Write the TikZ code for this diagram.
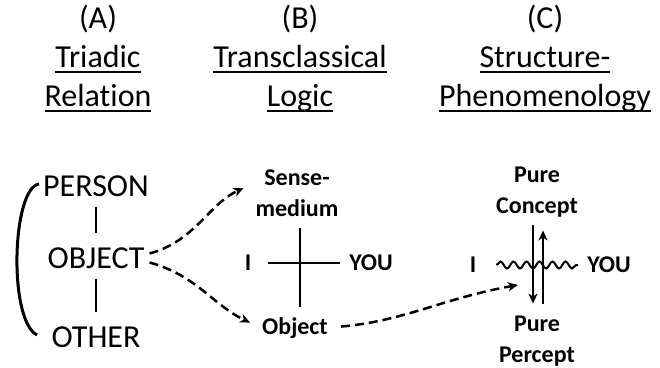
\documentclass[tikz,border=0pt]{standalone}
\usepackage{fontspec}
\setmainfont[Ligatures=NoCommon]{Carlito}
\usetikzlibrary{arrows.meta,decorations.pathmorphing}

\newcommand{\ulword}[1]{\setbox0=\hbox{#1}\rlap{\rule[-5pt]{\wd0}{2.2pt}}\box0}

\begin{document}
\begin{tikzpicture}[x=1pt,y=1pt,>={Stealth[length=10pt,width=9pt,inset=3pt]},line width=2.5pt]
  \tikzstyle{head}=[inner sep=0pt,anchor=base,font=\fontsize{32}{39}\selectfont]
  \tikzstyle{term}=[inner sep=0pt,font=\fontsize{32}{36}\selectfont]
  \tikzstyle{tag}=[inner sep=0pt,align=center,font=\fontsize{24}{31}\selectfont\bfseries]
  \tikzstyle{link}=[->,dash pattern=on 9pt off 5pt]
  \tikzstyle{wave}=[decorate,decoration={snake,segment length=13pt,amplitude=3.5pt}]

  \useasboundingbox (0,0) rectangle (660,367);

  % column headings
  \foreach \x/\n/\t/\u in {98/A/Triadic/Relation,300/B/Transclassical/Logic,545/C/Structure-/Phenomenology}{
    \node[head] (h\n) at (\x,338) {(\n)};
    \node[head] (t\n) at (\x,299) {\ulword{\t}};
    \node[head] (u\n) at (\x,260) {\ulword{\u}};
  }

  % (A) triadic relation
  \node[term] (person) at (96,181) {PERSON};
  \node[term] (object) at (96,109) {OBJECT};
  \node[term] (other)  at (96,30)  {OTHER};
  \coordinate (btop) at (39,183);
  \coordinate (bbot) at (37,32);

  \draw[line width=2pt,shorten <=9pt,shorten >=13pt] (person.south) -- (object.north);
  \draw[line width=2pt,shorten <=9pt,shorten >=13pt] (object.south) -- (other.north);
  \draw[line width=3pt] (btop) .. controls (12,179) and (8,47) .. (bbot);

  % (B) transclassical logic
  \node[tag] (sense) at (297,174) {Sense-\\medium};
  \node[tag] (obj) [anchor=base] at (295,33) {Object};
  \node[tag] (i1)   at (248,104) {I};
  \node[tag] (you1) at (371,104) {YOU};
  \coordinate (cross) at (300,104);

  \draw[shorten <=10pt,shorten >=9pt] (cross |- sense.south) -- (cross |- obj.north);
  \draw[shorten <=16pt,shorten >=8pt] (i1.east) -- (you1.west);

  \draw[link,shorten <=4pt,shorten >=12pt] (object.4) to[out=15,in=205] ([yshift=10pt]sense.west);
  \draw[link,shorten <=4pt,shorten >=12pt] (object.-4) to[out=-15,in=155] (obj.west);

  % (C) structure-phenomenology
  \node[tag] (concept) at (537,175) {Pure\\Concept};
  \node[tag] (percept) at (537,26)  {Pure\\Percept};
  \node[tag] (i2)   at (473,102) {I};
  \node[tag] (you2) at (609,102) {YOU};
  \coordinate (gap) at (518,82);

  \draw[->,shorten <=7pt,shorten >=11pt] ([xshift=-4pt]concept.south) -- ([xshift=-4pt]percept.north);
  \draw[->,shorten <=11pt,shorten >=12pt] ([xshift=6pt]percept.north) -- ([xshift=6pt]concept.south);
  \draw[wave,line width=2pt] ([xshift=19pt]i2.east) -- ([xshift=-8pt]you2.west);

  \draw[link,shorten <=12pt] (obj.east) to[out=5,in=190] (gap);
\end{tikzpicture}
\end{document}
